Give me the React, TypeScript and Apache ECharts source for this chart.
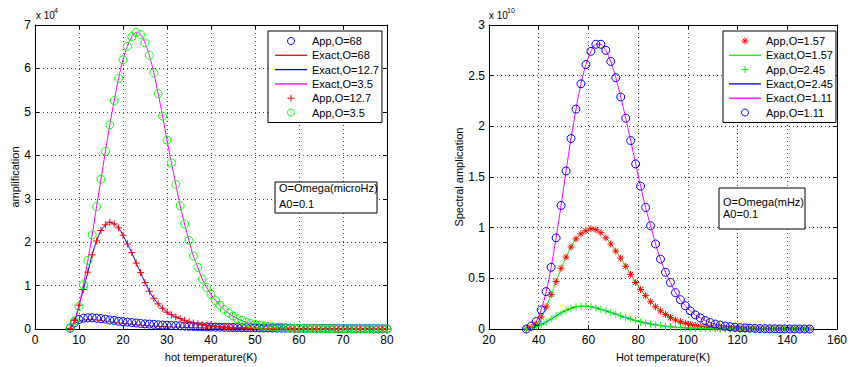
import React, { useEffect, useRef } from 'react';
import * as echarts from 'echarts';

// ---------- Left panel (amplitude in units of 1e4), samples at T = 8,9,...,80 K ----------
const leftStartT = 8;
const leftStepT = 1;
const app68 = [0.02,0.15,0.22,0.25,0.26,0.26,0.25,0.24,0.23,0.21,
  0.20,0.18,0.17,0.16,0.15,0.14,0.13,0.12,0.115,0.11,
  0.10,0.095,0.09,0.084,0.079,0.074,0.069,0.065,0.061,0.057,
  0.054,0.051,0.048,0.045,0.043,0.041,0.039,0.037,0.035,0.033,
  0.031,0.030,0.028,0.027,0.026,0.025,0.024,0.023,0.022,0.021,
  0.020,0.019,0.018,0.017,0.017,0.016,0.015,0.015,0.014,0.014,
  0.013,0.013,0.012,0.012,0.011,0.011,0.011,0.010,0.010,0.009,
  0.009,0.009,0.008];
const app127 = [0.01,0.20,0.55,0.91,1.31,1.71,2.03,2.27,2.40,2.46,
  2.42,2.33,2.16,1.96,1.76,1.52,1.30,1.07,0.87,0.71,
  0.58,0.48,0.39,0.33,0.28,0.24,0.20,0.17,0.14,0.12,
  0.10,0.085,0.072,0.062,0.053,0.046,0.040,0.035,0.030,0.026,
  0.023,0.020,0.018,0.016,0.014,0.012,0.011,0.010,0.009,0.008,
  0.007,0.006,0.006,0.005,0.005,0.004,0.004,0.004,0.003,0.003,
  0.003,0.003,0.002,0.002,0.002,0.002,0.002,0.002,0.001,0.001,
  0.001,0.001,0.001];
const app35 = [0.03,0.19,0.52,1.02,1.58,2.17,2.82,3.45,4.09,4.70,
  5.26,5.77,6.20,6.51,6.73,6.83,6.78,6.59,6.30,5.90,
  5.42,4.90,4.35,3.83,3.33,2.84,2.42,2.04,1.68,1.42,
  1.15,0.96,0.80,0.66,0.55,0.45,0.37,0.30,0.24,0.20,
  0.16,0.13,0.11,0.09,0.07,0.06,0.05,0.04,0.035,0.03,
  0.025,0.02,0.017,0.015,0.013,0.011,0.01,0.009,0.008,0.007,
  0.006,0.005,0.005,0.004,0.004,0.003,0.003,0.003,0.002,0.002,
  0.002,0.002,0.002];
const exact68T = [8,9,10,11,12,13,14,15,16,17,18,19,20,22,24,26,28,30,32,35,40,45,50,55,60,70,80];
const exact68 = [0.02,0.12,0.18,0.21,0.22,0.22,0.21,0.20,0.185,0.17,0.155,0.14,0.13,0.11,0.09,0.075,0.063,0.053,0.045,0.035,0.024,0.016,0.011,0.008,0.006,0.003,0.002];
const exact127 = app127;
const exact35 = app35;

// ---------- Right panel (spectral amplitude in units of 1e10), samples at T = 35,37,...,149 K ----------
const rightStartT = 35;
const rightStepT = 2;
const app157 = [0.003,0.015,0.05,0.12,0.22,0.34,0.47,0.60,0.71,0.81,
  0.89,0.94,0.97,0.99,0.98,0.95,0.90,0.84,0.77,0.70,
  0.62,0.54,0.46,0.39,0.33,0.27,0.22,0.18,0.145,0.115,
  0.09,0.072,0.057,0.045,0.035,0.028,0.022,0.017,0.013,0.010,
  0.008,0.006,0.005,0.004,0.003,0.002,0.002,0.001,0.001,0.001,
  0.001,0.001,0,0,0,0,0,0];
const app245 = [0.002,0.01,0.025,0.045,0.07,0.10,0.13,0.16,0.185,0.205,
  0.22,0.225,0.225,0.22,0.21,0.195,0.18,0.165,0.148,0.13,
  0.114,0.098,0.084,0.071,0.06,0.05,0.041,0.034,0.028,0.023,
  0.018,0.015,0.012,0.01,0.008,0.006,0.005,0.004,0.003,0.002,
  0.002,0.001,0.001,0.001,0.001,0.001,0,0,0,0,
  0,0,0,0,0,0,0,0];
const app111 = [0.00,0.03,0.075,0.19,0.37,0.61,0.90,1.22,1.56,1.88,
  2.17,2.42,2.61,2.74,2.81,2.81,2.75,2.64,2.48,2.29,
  2.08,1.86,1.63,1.41,1.20,1.02,0.84,0.69,0.56,0.46,
  0.36,0.29,0.23,0.18,0.14,0.11,0.085,0.065,0.05,0.04,
  0.03,0.023,0.018,0.014,0.011,0.009,0.007,0.005,0.004,0.003,
  0.003,0.002,0.002,0.001,0.001,0.001,0.001,0.001];
const exact157 = app157;
const exact245 = app245;
const exact111 = app111;

const leftLegend = ['App,O=68', 'Exact,O=68', 'Exact,O=12.7', 'Exact,O=3.5', 'App,O=12.7', 'App,O=3.5'];
const rightLegend = ['App,O=1.57', 'Exact,O=1.57', 'App,O=2.45', 'Exact,O=2.45', 'Exact,O=1.11', 'App,O=1.11'];

const FONT = "'Liberation Sans', Arial, Helvetica, sans-serif";
const PLUS = 'path://M5,0 L5,10 M0,5 L10,5';
const STAR = 'path://M5,0 L5,10 M0,5 L10,5 M1.5,1.5 L8.5,8.5 M8.5,1.5 L1.5,8.5';
const LINE_ICON = 'path://M0,0 L32,0 L32,1.3 L0,1.3 Z';

const sampled = (start: number, step: number, ys: number[]) => ys.map((y, i) => [start + i * step, y]);
const paired = (xs: number[], ys: number[]) => xs.map((x, i) => [x, ys[i]]);

function lineSeries(name: string, color: string, data: number[][], gi: number) {
  return {
    name, type: 'line', xAxisIndex: gi * 2, yAxisIndex: gi * 2, data,
    symbol: 'none', smooth: 0.3, lineStyle: { color, width: 1 }, itemStyle: { color }, z: 2,
  };
}
function markerSeries(name: string, color: string, symbol: string, size: number, data: number[][], gi: number) {
  const isCircle = symbol === 'circle';
  return {
    name, type: 'scatter', xAxisIndex: gi * 2, yAxisIndex: gi * 2, data,
    symbol, symbolSize: size,
    itemStyle: { color: isCircle ? 'rgba(0,0,0,0)' : color, borderColor: color, borderWidth: 1, opacity: 1 },
    z: 3,
  };
}

function xAxes(gi: number, min: number, max: number, interval: number, name: string) {
  return [
    {
      gridIndex: gi, type: 'value', position: 'bottom', min, max, interval,
      name, nameLocation: 'middle', nameGap: 18,
      nameTextStyle: { color: '#000', fontSize: 11, fontFamily: FONT },
      axisLine: { show: true, onZero: false, lineStyle: { color: '#000', width: 1 } },
      axisTick: { show: true, inside: true, length: 4, lineStyle: { color: '#000' } },
      axisLabel: { color: '#000', fontSize: 12, margin: 5, fontFamily: FONT },
      splitLine: { show: true, lineStyle: { color: '#444', width: 1, type: [1, 3] } },
    },
    {
      gridIndex: gi, type: 'value', position: 'top', min, max, interval,
      axisLine: { show: true, onZero: false, lineStyle: { color: '#000', width: 1 } },
      axisTick: { show: true, inside: true, length: 4, lineStyle: { color: '#000' } },
      axisLabel: { show: false }, splitLine: { show: false },
    },
  ];
}
function yAxes(gi: number, min: number, max: number, interval: number, name: string, gap: number) {
  return [
    {
      gridIndex: gi, type: 'value', position: 'left', min, max, interval,
      name, nameLocation: 'middle', nameGap: gap,
      nameTextStyle: { color: '#000', fontSize: 11, fontFamily: FONT },
      axisLine: { show: true, onZero: false, lineStyle: { color: '#000', width: 1 } },
      axisTick: { show: true, inside: true, length: 4, lineStyle: { color: '#000' } },
      axisLabel: { color: '#000', fontSize: 12, margin: 4, fontFamily: FONT },
      splitLine: { show: true, lineStyle: { color: '#444', width: 1, type: [1, 3] } },
    },
    {
      gridIndex: gi, type: 'value', position: 'right', min, max, interval,
      axisLine: { show: true, onZero: false, lineStyle: { color: '#000', width: 1 } },
      axisTick: { show: true, inside: true, length: 4, lineStyle: { color: '#000' } },
      axisLabel: { show: false }, splitLine: { show: false },
    },
  ];
}

function legendBox(names: string[], left: number, padding: number[]) {
  return {
    data: names.map((n) => (n.startsWith('Exact') ? { name: n, icon: LINE_ICON } : { name: n })),
    left, top: 31, orient: 'vertical', selectedMode: false,
    itemWidth: 32, itemHeight: 7, itemGap: 0.3, padding,
    itemStyle: { borderWidth: 1 },
    backgroundColor: '#fff', borderColor: '#000', borderWidth: 1,
    textStyle: { color: '#000', fontSize: 11, lineHeight: 14, fontFamily: FONT },
  };
}

function noteBox(x: number, y: number, w: number, h: number, lines: string[], y1: number, gapL: number) {
  return [
    { type: 'rect', shape: { x, y, width: w, height: h }, style: { fill: '#fff', stroke: '#000', lineWidth: 1 }, z: 10 },
    ...lines.map((t, i) => ({
      type: 'text', x: x + 4, y: y1 + i * gapL, z: 11,
      style: { text: t, fill: '#000', fontSize: 11, fontFamily: FONT, textVerticalAlign: 'middle', verticalAlign: 'middle' },
    })),
  ];
}

export default function App() {
  const ref = useRef<HTMLDivElement>(null);
  useEffect(() => {
    document.body.style.margin = '0';
    const chart = echarts.init(ref.current!, undefined, { renderer: 'svg' });
    const L = 0, R = 1;
    const option = {
      animation: false,
      backgroundColor: '#fff',
      textStyle: { fontFamily: FONT },
      grid: [
        { left: 35, top: 25, width: 352, height: 307 },
        { left: 489, top: 25, width: 350, height: 307 },
      ],
      xAxis: [
        ...xAxes(0, 0, 80, 10, 'hot temperature(K)'),
        ...xAxes(1, 20, 160, 20, 'Hot temperature(K)'),
      ],
      yAxis: [
        ...yAxes(0, 0, 7, 1, 'amplification', 14),
        ...yAxes(1, 0, 3, 0.5, 'Spectral amplication', 22),
      ],
      legend: [legendBox(leftLegend, 268, [3, 3, 3, 7]), legendBox(rightLegend, 723, [3, 3, 3, 6])],
      series: [
        lineSeries('Exact,O=68', '#ff0000', paired(exact68T, exact68), L),
        lineSeries('Exact,O=12.7', '#0000ff', sampled(leftStartT, leftStepT, exact127), L),
        lineSeries('Exact,O=3.5', '#ff00ff', sampled(leftStartT, leftStepT, exact35), L),
        markerSeries('App,O=68', '#0000ff', 'circle', 8, sampled(leftStartT, leftStepT, app68), L),
        markerSeries('App,O=12.7', '#ff0000', PLUS, 7, sampled(leftStartT, leftStepT, app127), L),
        markerSeries('App,O=3.5', '#00ff00', 'circle', 8, sampled(leftStartT, leftStepT, app35), L),

        lineSeries('Exact,O=1.57', '#00ff00', sampled(rightStartT, rightStepT, exact157), R),
        lineSeries('Exact,O=2.45', '#0000ff', sampled(rightStartT, rightStepT, exact245), R),
        lineSeries('Exact,O=1.11', '#ff00ff', sampled(rightStartT, rightStepT, exact111), R),
        markerSeries('App,O=1.57', '#ff0000', STAR, 7, sampled(rightStartT, rightStepT, app157), R),
        markerSeries('App,O=2.45', '#00ff00', PLUS, 7, sampled(rightStartT, rightStepT, app245), R),
        markerSeries('App,O=1.11', '#0000ff', 'circle', 8, sampled(rightStartT, rightStepT, app111), R),
      ],
      graphic: [
        ...noteBox(275, 182, 102, 31, ['O=Omega(microHz)', 'A0=0.1'], 188, 16),
        ...noteBox(719, 188, 86, 41, ['O=Omega(mHz)', 'A0=0.1'], 202, 12),
        { type: 'text', x: 36, y: 15, style: { text: 'x 10', fill: '#000', fontSize: 10, fontFamily: FONT, verticalAlign: 'middle', textVerticalAlign: 'middle' } },
        { type: 'text', x: 54, y: 10, style: { text: '4', fill: '#000', fontSize: 7, fontFamily: FONT, verticalAlign: 'middle', textVerticalAlign: 'middle' } },
        { type: 'text', x: 489, y: 15, style: { text: 'x 10', fill: '#000', fontSize: 10, fontFamily: FONT, verticalAlign: 'middle', textVerticalAlign: 'middle' } },
        { type: 'text', x: 507, y: 10, style: { text: '10', fill: '#000', fontSize: 7, fontFamily: FONT, verticalAlign: 'middle', textVerticalAlign: 'middle' } },
      ],
    };
    chart.setOption(option as any);
    return () => chart.dispose();
  }, []);
  return <div ref={ref} style={{ position: 'absolute', left: 0, top: 0, width: 850, height: 367 }} />;
}
